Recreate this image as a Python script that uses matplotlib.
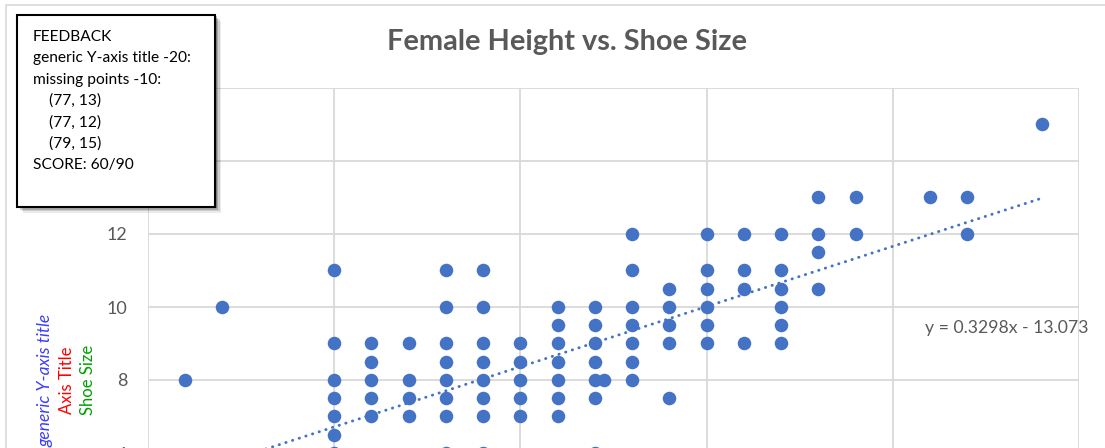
import matplotlib
matplotlib.use("Agg")
import matplotlib.pyplot as plt
from matplotlib.patches import Rectangle

plt.rcParams['font.family'] = ['Lato', 'DejaVu Sans']

# ---- data (height in inches, shoe size) ----
height = [56, 57,
          60, 60, 60, 60, 60, 60, 60,
          61, 61, 61, 61, 61,
          62, 62, 62, 62,
          63, 63, 63, 63, 63, 63, 63, 63,
          64, 64, 64, 64, 64, 64, 64, 64,
          65, 65, 65, 65, 65,
          66, 66, 66, 66, 66, 66, 66,
          67, 67, 67, 67, 67, 67, 67,
          67.25,
          68, 68, 68, 68, 68, 68, 68,
          69, 69, 69, 69, 69,
          70, 70, 70, 70, 70, 70,
          71, 71, 71, 71,
          72, 72, 72, 72, 72, 72,
          73, 73, 73, 73,
          74, 74,
          76,
          77, 77,
          79]
shoe = [8, 10,
        11, 9, 8, 7.5, 7, 6.5, 6,
        9, 8.5, 8, 7.5, 7,
        9, 8, 7.5, 7,
        11, 10, 9, 8.5, 8, 7.5, 7, 6,
        11, 10, 9, 8.5, 8, 7.5, 7, 6,
        9, 8.5, 8, 7.5, 7,
        10, 9.5, 9, 8.5, 8, 7.5, 7,
        10, 9.5, 9, 8.5, 8, 7.5, 6,
        8,
        12, 11, 10, 9.5, 9, 8.5, 8,
        10.5, 10, 9.5, 9, 7.5,
        12, 11, 10.5, 10, 9.5, 9,
        12, 11, 10.5, 9,
        12, 11, 10.5, 10, 9.5, 9,
        13, 12, 11.5, 10.5,
        13, 12,
        13,
        13, 12,
        15]

trend_slope = 0.3298
trend_intercept = -13.073
trend_label = "y = 0.3298x - 13.073"

y_ticks = [0, 2, 4, 6, 8, 10, 12, 14, 16]
# 14 and 16 sit under the feedback box in the reference; lower ones are cropped
y_ticklabels = ["", "", "", "6", "8", "10", "12", "", ""]
x_ticks = [55, 60, 65, 70, 75, 80]

title = "Female Height vs. Shoe Size"
feedback_lines = ["FEEDBACK",
                  "generic Y-axis title -20:",
                  "missing points -10:",
                  "    (77, 13)",
                  "    (77, 12)",
                  "    (79, 15)",
                  "SCORE: 60/90"]

W, H = 1105, 448
fig = plt.figure(figsize=(W / 100, H / 100), dpi=100)
fig.patch.set_facecolor('white')

def fx(px):
    return px / W

def fy(py):
    return (H - py) / H

# outer chart border (light gray)
fig.patches.append(Rectangle((fx(6), fy(470)), fx(1110) - fx(6), fy(5) - fy(470),
                             transform=fig.transFigure, fill=False,
                             edgecolor='#d9d9d9', linewidth=1.2, zorder=0))

# plot area: y from 0 (below the visible region) to 16
ax_left, ax_right, ax_top = 148, 1079, 88
ax_bottom = 88 + 16 * 36.5
ax = fig.add_axes([fx(ax_left), fy(ax_bottom), fx(ax_right) - fx(ax_left), fy(ax_top) - fy(ax_bottom)])
ax.set_xlim(55, 80)
ax.set_ylim(0, 16)
ax.set_xticks(x_ticks)
ax.set_xticklabels([])  # below the visible crop
ax.set_yticks(y_ticks)
ax.set_yticklabels(y_ticklabels)
ax.grid(True, color='#d9d9d9', linewidth=1.3)
ax.set_axisbelow(True)
for s in ax.spines.values():
    s.set_visible(False)
ax.tick_params(length=0, labelsize=13, labelcolor='#595959', pad=15)

ax.scatter(height, shoe, s=95, color='#4472C4', zorder=3, linewidths=0)

tx = [min(height), max(height)]
ty = [trend_slope * v + trend_intercept for v in tx]
ax.plot(tx, ty, color='#4472C4', linewidth=2.1, linestyle=(0, (0.1, 2.3)),
        dash_capstyle='round', zorder=2)

fig.text(fx(925), fy(328), trend_label, fontsize=12.7, color='#595959',
         ha='left', va='center')

fig.text(fx(567), fy(42), title, fontsize=20.8, fontweight='bold', color='#595959',
         ha='center', va='center')

# y-axis titles
fig.text(fx(45), fy(380), "generic Y-axis title", rotation=90, fontsize=12.5,
         style='italic', color='#3c3cff', ha='center', va='center')
fig.text(fx(67), fy(380), "Axis Title", rotation=90, fontsize=12,
         color='#ff0000', ha='center', va='center')
fig.text(fx(88), fy(380), "Shoe Size", rotation=90, fontsize=12,
         color='#00a000', ha='center', va='center')

# feedback box with shadow
bx0, by0, bx1, by1 = 17, 15, 215, 207
for i, a in enumerate([0.08, 0.12, 0.18, 0.25]):
    off = 6 - i * 1.5
    fig.patches.append(Rectangle((fx(bx0 + off), fy(by1 + off)), fx(bx1) - fx(bx0), fy(by0) - fy(by1),
                                 transform=fig.transFigure, facecolor='black', alpha=a,
                                 edgecolor='none', zorder=4))
fig.patches.append(Rectangle((fx(bx0), fy(by1)), fx(bx1) - fx(bx0), fy(by0) - fy(by1),
                             transform=fig.transFigure, facecolor='white',
                             edgecolor='black', linewidth=1.5, zorder=5))
for i, line in enumerate(feedback_lines):
    fig.text(fx(33), fy(37 + i * 21.3), line, fontsize=11.2, color='black',
             ha='left', va='center', zorder=6)

fig.savefig('out.png', dpi=100)
